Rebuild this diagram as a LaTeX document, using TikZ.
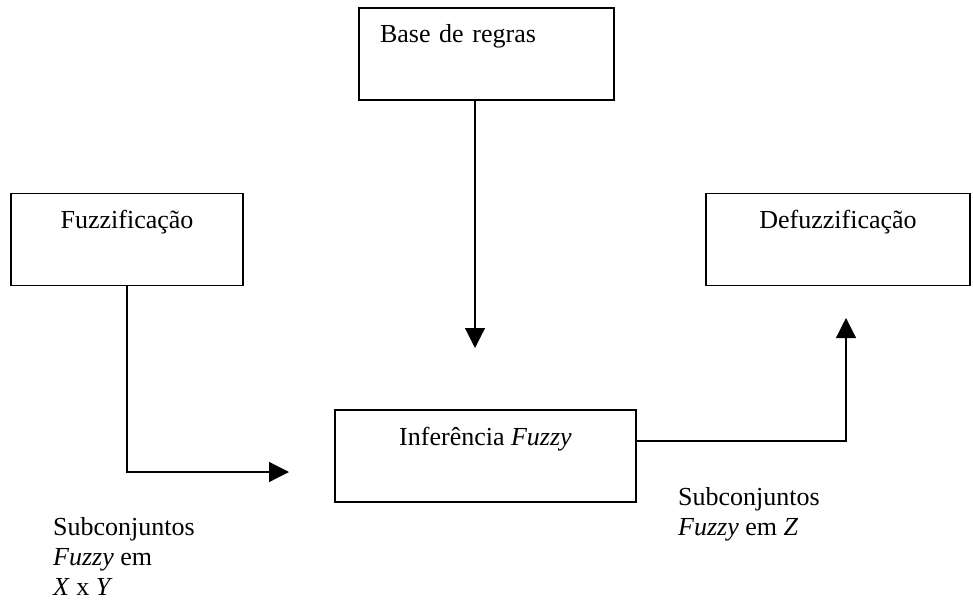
\documentclass[tikz,border=0pt]{standalone}
\usepackage{fontspec}
\setmainfont{Liberation Serif}
\usetikzlibrary{arrows.meta, positioning}

\begin{document}
\begin{tikzpicture}[
  x=1pt, y=-1pt,
  box/.style={draw, line width=1.2pt, inner sep=0pt, text height=35pt, text depth=57pt,
    font=\fontsize{26}{30}\selectfont},
  arrow/.style={-{Triangle[length=20pt, width=20pt]}, line width=1.2pt},
  lbl/.style={anchor=north west, inner sep=0pt, align=left, font=\fontsize{26}{30}\selectfont},
]
  \useasboundingbox (0,0) rectangle (973,601);
  \node[box, minimum width=255pt, text width=213pt, inner xsep=21pt, align=left] (base) at (486.5,54) {Base de regras};
  \node[box, minimum width=232pt] (fuzz) at (127,239.5) {Fuzzificação};
  \node[box, minimum width=264pt] (defuzz) at (838,239.5) {Defuzzificação};
  \node[box, minimum width=301pt] (infer) at (485.5,456) {Inferência \textit{Fuzzy}};
  \coordinate (downtip) at (475,348);
  \coordinate (fuzztip) at (289,472);
  \coordinate (defuzztip) at (846,318);
  \draw[arrow] (downtip |- base.south) -- (downtip);
  \draw[arrow] (fuzz.south) |- (fuzztip);
  \draw[arrow] ([yshift=15pt]infer.east) -| (defuzztip);
  \node[lbl] (subxy) at (53,517) {Subconjuntos\\\textit{Fuzzy} em\\\textit{X} x \textit{Y}};
  \node[lbl] (subz) at (678,487) {Subconjuntos\\\textit{Fuzzy} em \textit{Z}};
\end{tikzpicture}
\end{document}
